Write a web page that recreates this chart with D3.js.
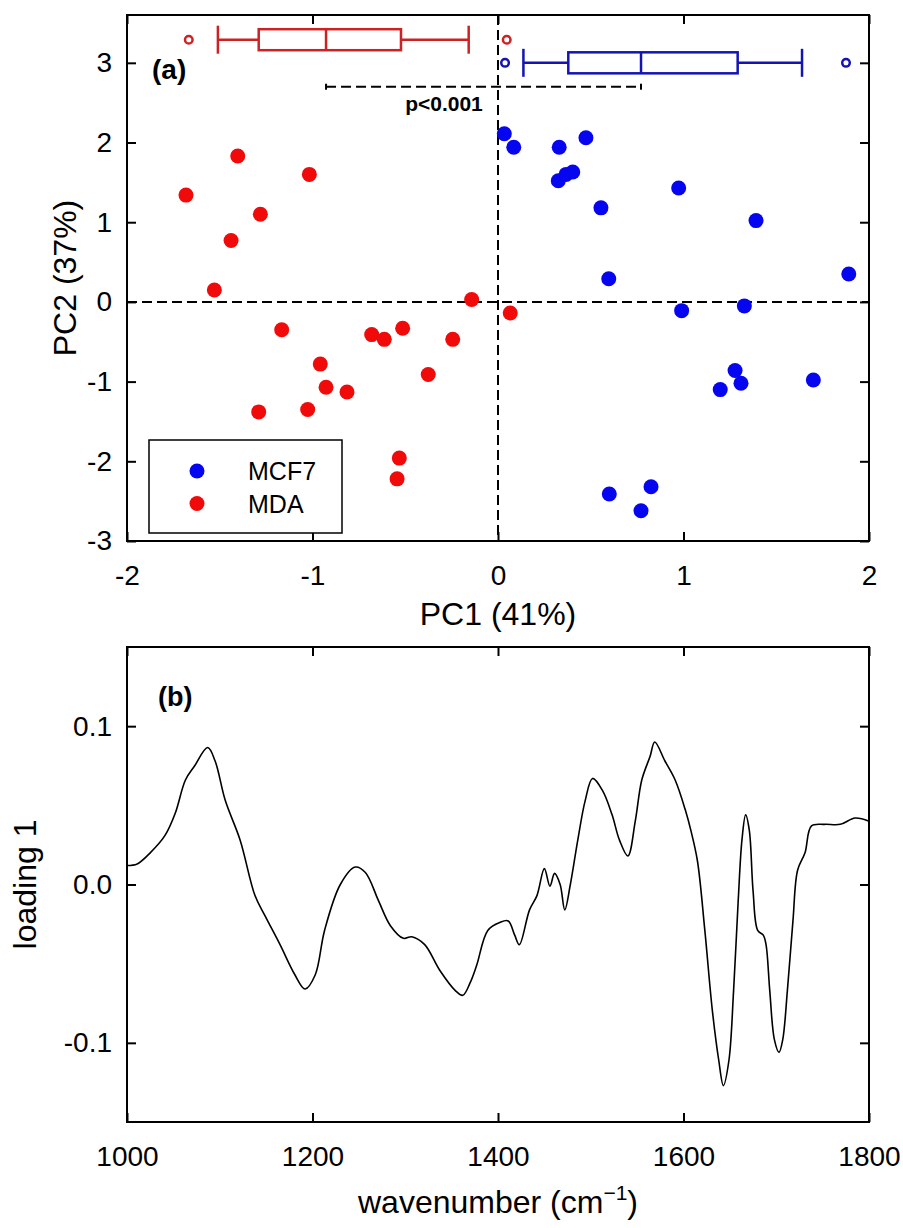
<!DOCTYPE html>
<html>
<head>
<meta charset="utf-8">
<script src="https://d3js.org/d3.v7.min.js"></script>
<style>
  body { margin: 0; background: white; }
  text { font-family: 'Liberation Sans', Arial, sans-serif; }
</style>
</head>
<body>
<script>
// DATA
const mcf7PC1 = [0.034, 0.085, 0.33, 0.474, 0.325, 0.367, 0.403, 0.974, 0.555, 1.391, 1.891,
  0.597, 0.99, 1.328, 0.6, 0.825, 0.771, 1.198, 1.278, 1.31, 1.7];
const mcf7PC2 = [2.11, 1.94, 1.94, 2.06, 1.52, 1.6, 1.63, 1.43, 1.18, 1.02, 0.35,
  0.29, -0.11, -0.05, -2.41, -2.32, -2.62, -1.1, -0.86, -1.02, -0.98];

const mdaPC1 = [-1.403, -1.017, -1.682, -1.281, -1.439, -1.529, -0.142, 0.066, -1.166, -0.681, -0.613,
  -0.514, -0.244, -0.958, -0.376, -0.927, -0.814, -1.29, -1.026, -0.532, -0.544];
const mdaPC2 = [1.83, 1.6, 1.34, 1.1, 0.77, 0.15, 0.03, -0.14, -0.35, -0.41, -0.47,
  -0.33, -0.47, -0.78, -0.91, -1.07, -1.13, -1.38, -1.35, -1.96, -2.22];

// box plots of PC1: [whisker low, q1, median, q3, whisker high]
const mdaBox = [-1.51, -1.29, -0.927, -0.523, -0.158];
const mdaOutliers = [-1.667, 0.047];
const mcf7Box = [0.137, 0.379, 0.771, 1.292, 1.639];
const mcf7Outliers = [0.038, 1.876];

const wavenumber = [1000, 1011, 1025, 1041, 1052, 1063, 1073, 1087, 1095, 1106, 1122, 1138, 1149, 1165,
  1181, 1192, 1203, 1213, 1230, 1246, 1257, 1271, 1284, 1298, 1307, 1321, 1337, 1354, 1362, 1370,
  1377, 1389, 1402, 1411, 1418, 1423, 1434, 1442, 1450, 1456, 1461, 1467, 1472, 1478, 1486, 1494,
  1502, 1513, 1523, 1531, 1540, 1548, 1555, 1564, 1569, 1580, 1591, 1602, 1608, 1615, 1623, 1631,
  1638, 1643, 1649, 1654, 1659, 1663, 1667, 1671, 1675, 1680, 1686, 1689, 1693, 1698, 1703, 1707,
  1712, 1718, 1723, 1731, 1738, 1752, 1769, 1785, 1800];
const loading1 = [0.012, 0.013, 0.02, 0.031, 0.045, 0.066, 0.075, 0.0865, 0.078, 0.053, 0.028, -0.007,
  -0.02, -0.038, -0.057, -0.066, -0.057, -0.029, 0, 0.011, 0.0076, -0.01, -0.026, -0.034, -0.033,
  -0.038, -0.054, -0.067, -0.07, -0.062, -0.051, -0.029, -0.024, -0.023, -0.032, -0.038, -0.016,
  -0.007, 0.01, -0.001, 0.007, 0, -0.016, 0, 0.028, 0.053, 0.067, 0.059, 0.044, 0.028, 0.018, 0.04,
  0.066, 0.081, 0.09, 0.078, 0.066, 0.047, 0.034, 0.015, -0.029, -0.079, -0.111, -0.127, -0.111,
  -0.067, -0.01, 0.028, 0.044, 0.034, -0.004, -0.029, -0.032, -0.038, -0.067, -0.098, -0.106,
  -0.098, -0.067, -0.023, 0.009, 0.02, 0.037, 0.038, 0.038, 0.042, 0.04];

const pcTicksX = [-2, -1, 0, 1, 2];
const pcTicksY = [-3, -2, -1, 0, 1, 2, 3];
const wnTicks = [1000, 1200, 1400, 1600, 1800];
const loadTicks = [-0.1, 0, 0.1];

const width = 903;
const height = 1228;
const left = 127;
const right = 869;
const tick = 9;

const blue = '#0505f0';
const red = '#f00a0a';
const boxRed = '#cc2224';
const boxBlue = '#1414b4';

const svg = d3
  .select('body')
  .append('svg')
  .attr('width', width)
  .attr('height', height)
  .style('background-color', 'white');

// SCALES
const xA = d3.scaleLinear().domain([-2, 2]).range([left, right]);
const yA = d3.scaleLinear().domain([-3, 3.6]).range([541, 15]);
const xB = d3.scaleLinear().domain([1000, 1800]).range([left, right]);
const yB = d3.scaleLinear().domain([-0.15, 0.15]).range([1122, 647]);

const plain = d => String(d);

const drawAxes = (g, x, y, xt, yt, yFormat) => {
  const [y0, y1] = y.range();
  g.append('g')
    .attr('transform', `translate(0, ${y0})`)
    .call(d3.axisBottom(x).tickValues(xt).tickSize(-tick).tickSizeOuter(0).tickPadding(24).tickFormat(plain))
    .call(a => a.select('.domain').remove());
  g.append('g')
    .attr('transform', `translate(0, ${y1})`)
    .call(d3.axisTop(x).tickValues(xt).tickSize(-tick).tickSizeOuter(0).tickFormat(''))
    .call(a => a.select('.domain').remove());
  g.append('g')
    .attr('transform', `translate(${left}, 0)`)
    .call(d3.axisLeft(y).tickValues(yt).tickSize(-tick).tickSizeOuter(0).tickPadding(15).tickFormat(yFormat))
    .call(a => a.select('.domain').remove());
  g.append('g')
    .attr('transform', `translate(${right}, 0)`)
    .call(d3.axisRight(y).tickValues(yt).tickSize(-tick).tickSizeOuter(0).tickFormat(''))
    .call(a => a.select('.domain').remove());
  g.selectAll('.tick line').attr('stroke', '#000').attr('stroke-width', 2);
  g.selectAll('.tick text')
    .attr('fill', '#000')
    .style('font-size', '28px')
    .style('font-family', "'Liberation Sans', Arial, sans-serif");
  g.append('rect')
    .attr('x', left)
    .attr('y', y1)
    .attr('width', right - left)
    .attr('height', y0 - y1)
    .attr('fill', 'none')
    .attr('stroke', '#000')
    .attr('stroke-width', 2);
};

// PANEL A
const gA = svg.append('g');

gA.append('line')
  .attr('x1', left).attr('x2', right)
  .attr('y1', yA(0)).attr('y2', yA(0))
  .attr('stroke', '#000').attr('stroke-width', 2)
  .attr('stroke-dasharray', '10,5');
gA.append('line')
  .attr('x1', xA(0)).attr('x2', xA(0))
  .attr('y1', yA(3.6)).attr('y2', yA(-3))
  .attr('stroke', '#000').attr('stroke-width', 2)
  .attr('stroke-dasharray', '10,5');

// box plots
const drawBox = (stats, outliers, yv, color) => {
  const yc = yA(yv);
  const g = gA.append('g').attr('stroke', color).attr('stroke-width', 2.5).attr('fill', 'none');
  g.append('line').attr('x1', xA(stats[0])).attr('x2', xA(stats[1])).attr('y1', yc).attr('y2', yc);
  g.append('line').attr('x1', xA(stats[3])).attr('x2', xA(stats[4])).attr('y1', yc).attr('y2', yc);
  [stats[0], stats[4]].forEach(v => {
    g.append('line').attr('x1', xA(v)).attr('x2', xA(v)).attr('y1', yc - 14).attr('y2', yc + 14);
  });
  g.append('rect')
    .attr('x', xA(stats[1]))
    .attr('y', yc - 10.5)
    .attr('width', xA(stats[3]) - xA(stats[1]))
    .attr('height', 21);
  g.append('line').attr('x1', xA(stats[2])).attr('x2', xA(stats[2])).attr('y1', yc - 10.5).attr('y2', yc + 10.5);
  g.selectAll('circle')
    .data(outliers)
    .enter()
    .append('circle')
    .attr('cx', d => xA(d))
    .attr('cy', yc)
    .attr('r', 3.8);
};
drawBox(mdaBox, mdaOutliers, 3.29, boxRed);
drawBox(mcf7Box, mcf7Outliers, 3.0, boxBlue);

// significance bracket between medians
gA.append('line')
  .attr('x1', xA(mdaBox[2])).attr('x2', xA(mcf7Box[2]))
  .attr('y1', yA(2.7)).attr('y2', yA(2.7))
  .attr('stroke', '#000').attr('stroke-width', 2)
  .attr('stroke-dasharray', '10,5');
[mdaBox[2], mcf7Box[2]].forEach(v => {
  gA.append('line')
    .attr('x1', xA(v)).attr('x2', xA(v))
    .attr('y1', yA(2.7) - 3).attr('y2', yA(2.7) + 3)
    .attr('stroke', '#000').attr('stroke-width', 2);
});
gA.append('text')
  .attr('x', xA(-0.082))
  .attr('y', yA(2.4))
  .attr('text-anchor', 'end')
  .style('font-size', '21px')
  .style('font-weight', 'bold')
  .text('p<0.001');

// points
gA.selectAll('.mcf7')
  .data(mcf7PC1)
  .enter()
  .append('circle')
  .attr('class', 'mcf7')
  .attr('cx', d => xA(d))
  .attr('cy', (d, i) => yA(mcf7PC2[i]))
  .attr('r', 7.5)
  .attr('fill', blue);
gA.selectAll('.mda')
  .data(mdaPC1)
  .enter()
  .append('circle')
  .attr('class', 'mda')
  .attr('cx', d => xA(d))
  .attr('cy', (d, i) => yA(mdaPC2[i]))
  .attr('r', 7.5)
  .attr('fill', red);

drawAxes(gA, xA, yA, pcTicksX, pcTicksY, plain);

gA.append('text')
  .attr('x', 152)
  .attr('y', 79)
  .style('font-size', '28px')
  .style('font-weight', 'bold')
  .text('(a)');

// legend
const legend = gA.append('g');
legend.append('rect')
  .attr('x', 149).attr('y', 440)
  .attr('width', 193).attr('height', 93)
  .attr('fill', 'white').attr('stroke', '#000').attr('stroke-width', 1.5);
[['MCF7', blue], ['MDA', red]].forEach(([name, color], i) => {
  legend.append('circle')
    .attr('cx', 197).attr('cy', 471 + i * 32.5)
    .attr('r', 7.5).attr('fill', color);
  legend.append('text')
    .attr('x', 248).attr('y', 480 + i * 32.5)
    .style('font-size', '25px')
    .text(name);
});

gA.append('text')
  .attr('x', (left + right) / 2)
  .attr('y', 625)
  .attr('text-anchor', 'middle')
  .style('font-size', '32px')
  .text('PC1 (41%)');
gA.append('text')
  .attr('transform', `translate(76, ${(15 + 541) / 2}) rotate(-90)`)
  .attr('text-anchor', 'middle')
  .style('font-size', '32px')
  .text('PC2 (37%)');

// PANEL B
const gB = svg.append('g');

const line = d3
  .line()
  .x(d => xB(d))
  .y((d, i) => yB(loading1[i]))
  .curve(d3.curveCatmullRom.alpha(0.5));

gB.append('path')
  .datum(wavenumber)
  .attr('d', line)
  .attr('fill', 'none')
  .attr('stroke', '#000')
  .attr('stroke-width', 1.6);

drawAxes(gB, xB, yB, wnTicks, loadTicks, d => d.toFixed(1));

gB.append('text')
  .attr('x', 158)
  .attr('y', 706)
  .style('font-size', '27px')
  .style('font-weight', 'bold')
  .text('(b)');

const wnLabel = gB.append('text')
  .attr('x', (left + right) / 2)
  .attr('y', 1213)
  .attr('text-anchor', 'middle')
  .style('font-size', '32px');
wnLabel.append('tspan').text('wavenumber (cm');
wnLabel.append('tspan').attr('dy', -13).style('font-size', '21px').text('\u22121');
wnLabel.append('tspan').attr('dy', 13).text(')');

gB.append('text')
  .attr('transform', `translate(36, ${(647 + 1122) / 2}) rotate(-90)`)
  .attr('text-anchor', 'middle')
  .style('font-size', '32px')
  .text('loading 1');
</script>
</body>
</html>
